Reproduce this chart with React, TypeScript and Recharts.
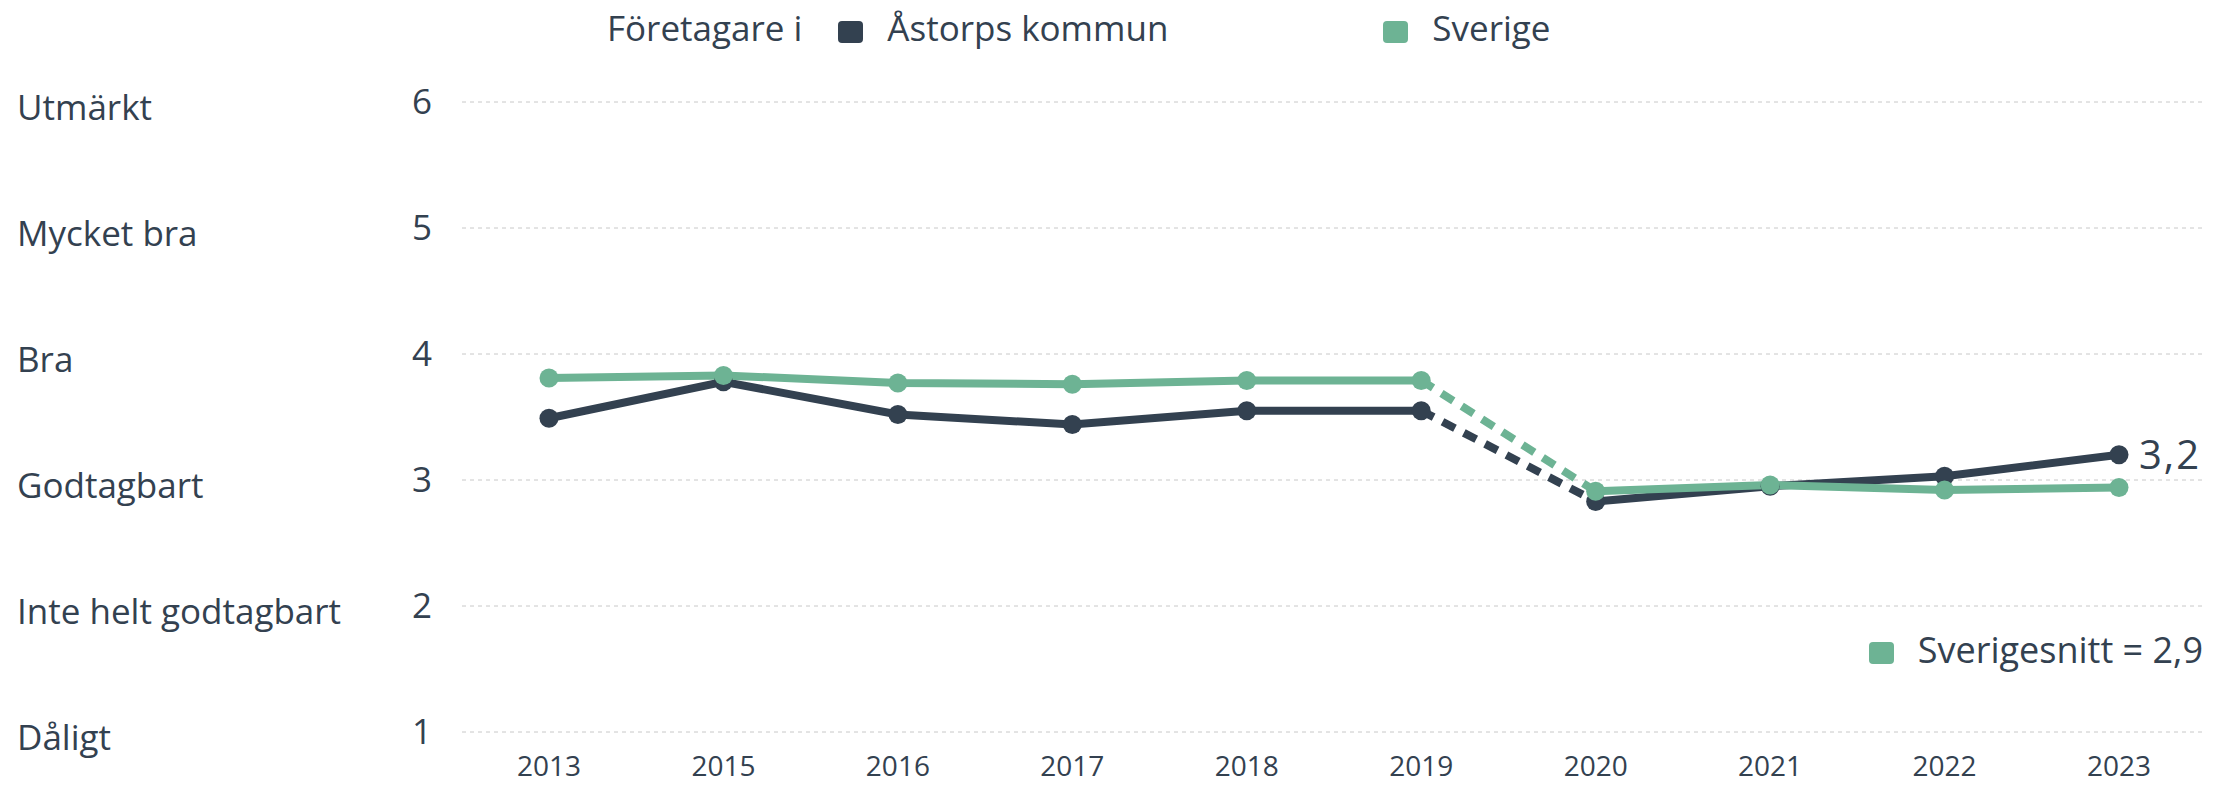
import { LineChart, Line, XAxis, YAxis, CartesianGrid } from 'recharts'

const YEARS = ['2013', '2015', '2016', '2017', '2018', '2019', '2020', '2021', '2022', '2023']
const ASTORP = [3.49, 3.78, 3.52, 3.44, 3.55, 3.55, 2.83, 2.95, 3.03, 3.2]
const SVERIGE = [3.81, 3.83, 3.77, 3.76, 3.79, 3.79, 2.91, 2.96, 2.92, 2.94]
const Y_TICKS = [1, 2, 3, 4, 5, 6]
const LEVELS = ['Dåligt', 'Inte helt godtagbart', 'Godtagbart', 'Bra', 'Mycket bra', 'Utmärkt']
// first year measured with the new method; the step into it is drawn dashed
const BREAK_INDEX = 6
const SWEDEN_AVG = '2,9'

const DARK = '#334150'
const GREEN = '#6db394'
const TEXT = '#334150'
const FONT = '"Open Sans", sans-serif'

const data = YEARS.map((year, i) => ({
  year,
  astorpBefore: i < BREAK_INDEX ? ASTORP[i] : null,
  astorpAfter: i >= BREAK_INDEX ? ASTORP[i] : null,
  astorpGap: i === BREAK_INDEX - 1 || i === BREAK_INDEX ? ASTORP[i] : null,
  sverigeBefore: i < BREAK_INDEX ? SVERIGE[i] : null,
  sverigeAfter: i >= BREAK_INDEX ? SVERIGE[i] : null,
  sverigeGap: i === BREAK_INDEX - 1 || i === BREAK_INDEX ? SVERIGE[i] : null,
}))

const YTick = (props: any) => {
  const { y, payload } = props
  return (
    <g>
      <text x={17} y={y} dy={18} fontSize={35} fill={TEXT} fontFamily={FONT}>
        {LEVELS[payload.value - 1]}
      </text>
      <text x={432} y={y} dy={12} fontSize={35} fill={TEXT} fontFamily={FONT} textAnchor="end">
        {payload.value}
      </text>
    </g>
  )
}

const XTick = (props: any) => {
  const { x, y, payload } = props
  return (
    <text x={x} y={y} dy={36} fontSize={28} fill={TEXT} fontFamily={FONT} textAnchor="middle">
      {payload.value}
    </text>
  )
}

const EndLabel = (props: any) => {
  const { x, y, index } = props
  if (index !== YEARS.length - 1) return null
  return (
    <text x={x + 20} y={y} dy={14} fontSize={40} letterSpacing={2} fill={TEXT} fontFamily={FONT}>
      {String(ASTORP[index]).replace('.', ',')}
    </text>
  )
}

const Swatch = ({ color }: { color: string }) => (
  <span
    style={{
      display: 'inline-block',
      width: 25,
      height: 22,
      borderRadius: 4,
      background: color,
      marginRight: 24,
      verticalAlign: 'middle',
    }}
  />
)

export default function App() {
  const dotStyle = (color: string) => ({ r: 9.5, fill: color, stroke: color, strokeWidth: 0 })
  return (
    <div style={{ position: 'absolute', left: 0, top: 0, width: 2229, height: 786, background: '#fff' }}>
      <LineChart width={2229} height={786} data={data} margin={{ top: 102, right: 23, bottom: 0, left: 0 }}>
        <CartesianGrid vertical={false} stroke="#c8c8c8" strokeDasharray="4 4" />
        <XAxis
          dataKey="year"
          axisLine={false}
          tickLine={false}
          height={54}
          padding={{ left: 87, right: 87 }}
          tick={<XTick />}
          interval={0}
        />
        <YAxis
          type="number"
          domain={[1, 6]}
          ticks={Y_TICKS}
          width={462}
          axisLine={false}
          tickLine={false}
          tick={<YTick />}
        />
        <Line dataKey="astorpBefore" stroke={DARK} strokeWidth={8} dot={dotStyle(DARK)} activeDot={false} isAnimationActive={false} />
        <Line dataKey="astorpGap" stroke={DARK} strokeWidth={8} strokeDasharray="14 10" dot={false} activeDot={false} isAnimationActive={false} />
        <Line
          dataKey="astorpAfter"
          stroke={DARK}
          strokeWidth={8}
          dot={dotStyle(DARK)}
          activeDot={false}
          label={<EndLabel />}
          isAnimationActive={false}
        />
        <Line dataKey="sverigeBefore" stroke={GREEN} strokeWidth={8} dot={dotStyle(GREEN)} activeDot={false} isAnimationActive={false} />
        <Line dataKey="sverigeGap" stroke={GREEN} strokeWidth={8} strokeDasharray="14 10" dot={false} activeDot={false} isAnimationActive={false} />
        <Line dataKey="sverigeAfter" stroke={GREEN} strokeWidth={8} dot={dotStyle(GREEN)} activeDot={false} isAnimationActive={false} />
      </LineChart>

      <div
        style={{
          position: 'absolute',
          top: 8,
          left: 607,
          fontFamily: FONT,
          fontSize: 35,
          color: TEXT,
          whiteSpace: 'nowrap',
          lineHeight: '40px',
        }}
      >
        <span style={{ marginRight: 36 }}>Företagare i</span>
        <Swatch color={DARK} />
        <span style={{ display: 'inline-block', width: 496 }}>Åstorps kommun</span>
        <Swatch color={GREEN} />
        <span>Sverige</span>
      </div>

      <div
        style={{
          position: 'absolute',
          top: 630,
          right: 26,
          fontFamily: FONT,
          fontSize: 36,
          color: TEXT,
          whiteSpace: 'nowrap',
          lineHeight: '40px',
        }}
      >
        <Swatch color={GREEN} />
        <span>Sverigesnitt = {SWEDEN_AVG}</span>
      </div>
    </div>
  )
}
